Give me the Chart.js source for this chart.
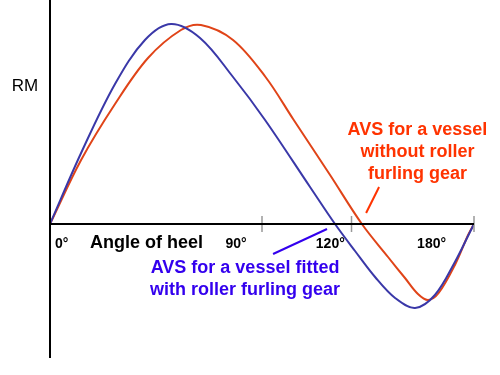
<!DOCTYPE html>
<html>
<head>
<meta charset="utf-8">
<script src="https://cdn.jsdelivr.net/npm/chart.js@4/dist/chart.umd.min.js"></script>
<style>
  html, body { margin: 0; padding: 0; background: #fff; }
  #wrap { width: 500px; height: 375px; }
</style>
</head>
<body>
<div id="wrap"><canvas id="c" width="500" height="375"></canvas></div>
<script>
// righting moment curves, heel angle in degrees vs RM (arbitrary units)
const withoutFurling = [
  [0, 0], [13.2, 64], [27.6, 120], [41.6, 166], [55.6, 194], [64.1, 199],
  [77.7, 184], [91.5, 147], [103.2, 105], [118.9, 49],
  [132.4, 0], [143.5, -33], [150.7, -54], [156.2, -70], [160.5, -76],
  [165, -69], [171.9, -41], [177.5, -11], [180, 0]
];
const withFurling = [
  [0, 0], [13.2, 71], [27.6, 140], [40.3, 184], [51.4, 200], [63.7, 186],
  [77.7, 147], [91.3, 104], [110.4, 37], [121, 0],
  [129.5, -27], [138, -53], [146.5, -74], [155, -84], [163.4, -71],
  [171.9, -38], [178.3, -8], [180, 0]
];
const tickAngles = [90, 128, 180];
const tickLabels = ["0°", "90°", "120°", "180°"];
const tickLabelAngles = [5, 79, 119, 162];

const toPts = (arr) => arr.map(([x, y]) => ({ x, y }));

// -- axes, ticks and annotations ----------------------------------------
const diagram = {
  id: "diagram",
  afterDraw(chart) {
    const { ctx, scales: { x, y } } = chart;
    const x0 = x.getPixelForValue(0), y0 = y.getPixelForValue(0);
    ctx.save();

    // tick marks
    ctx.strokeStyle = "#999";
    ctx.lineWidth = 1.5;
    for (const a of tickAngles) {
      const px = x.getPixelForValue(a);
      ctx.beginPath();
      ctx.moveTo(px, y0 - 8);
      ctx.lineTo(px, y0 + 8);
      ctx.stroke();
    }

    // axis lines
    ctx.strokeStyle = "#000";
    ctx.lineWidth = 2;
    ctx.beginPath();
    ctx.moveTo(x0, chart.chartArea.top);
    ctx.lineTo(x0, chart.chartArea.bottom);
    ctx.moveTo(x0, y0);
    ctx.lineTo(x.getPixelForValue(180), y0);
    ctx.stroke();

    // tick labels
    ctx.fillStyle = "#000";
    ctx.font = "bold 14px 'Liberation Sans', Arial, sans-serif";
    ctx.textAlign = "center";
    ctx.textBaseline = "middle";
    tickLabels.forEach((t, i) => {
      ctx.fillText(t, x.getPixelForValue(tickLabelAngles[i]), y0 + 20);
    });

    ctx.font = "bold 18px 'Liberation Sans', Arial, sans-serif";
    ctx.fillText("Angle of heel", x.getPixelForValue(41), y0 + 19);

    ctx.font = "17px 'Liberation Sans', Arial, sans-serif";
    ctx.fillText("RM", 25, y.getPixelForValue(138));

    // red annotation
    ctx.fillStyle = "#ff3300";
    ctx.font = "bold 18px 'Liberation Sans', Arial, sans-serif";
    const rx = x.getPixelForValue(156);
    ["AVS for a vessel", "without roller", "furling gear"].forEach((t, i) => {
      ctx.fillText(t, rx, y.getPixelForValue(94 - i * 22));
    });
    ctx.strokeStyle = "#ff3300";
    ctx.lineWidth = 2;
    ctx.beginPath();
    ctx.moveTo(x.getPixelForValue(139.7), y.getPixelForValue(37));
    ctx.lineTo(x.getPixelForValue(134.2), y.getPixelForValue(11));
    ctx.stroke();

    // blue annotation
    ctx.fillStyle = "#3300ee";
    const bx = x.getPixelForValue(82.8);
    ["AVS for a vessel fitted", "with roller furling gear"].forEach((t, i) => {
      ctx.fillText(t, bx, y.getPixelForValue(-44 - i * 22));
    });
    ctx.strokeStyle = "#3300ee";
    ctx.beginPath();
    ctx.moveTo(x.getPixelForValue(94.7), y.getPixelForValue(-30));
    ctx.lineTo(x.getPixelForValue(117.6), y.getPixelForValue(-5));
    ctx.stroke();

    ctx.restore();
  }
};

new Chart(document.getElementById("c"), {
  type: "line",
  data: {
    datasets: [
      {
        label: "without roller furling gear",
        data: toPts(withoutFurling),
        borderColor: "#e04418",
        borderWidth: 2,
        pointRadius: 0,
        tension: 0.35,
        order: 2,
      },
      {
        label: "with roller furling gear",
        data: toPts(withFurling),
        borderColor: "#3a38a8",
        borderWidth: 2,
        pointRadius: 0,
        tension: 0.35,
        order: 1,
      },
    ],
  },
  options: {
    responsive: false,
    animation: false,
    parsing: false,
    layout: { padding: { left: 50, right: 26, top: 0, bottom: 17 } },
    plugins: { legend: { display: false }, tooltip: { enabled: false } },
    scales: {
      x: { type: "linear", min: 0, max: 180, display: false },
      y: { type: "linear", min: -134, max: 224, display: false },
    },
  },
  plugins: [diagram],
});
</script>
</body>
</html>
